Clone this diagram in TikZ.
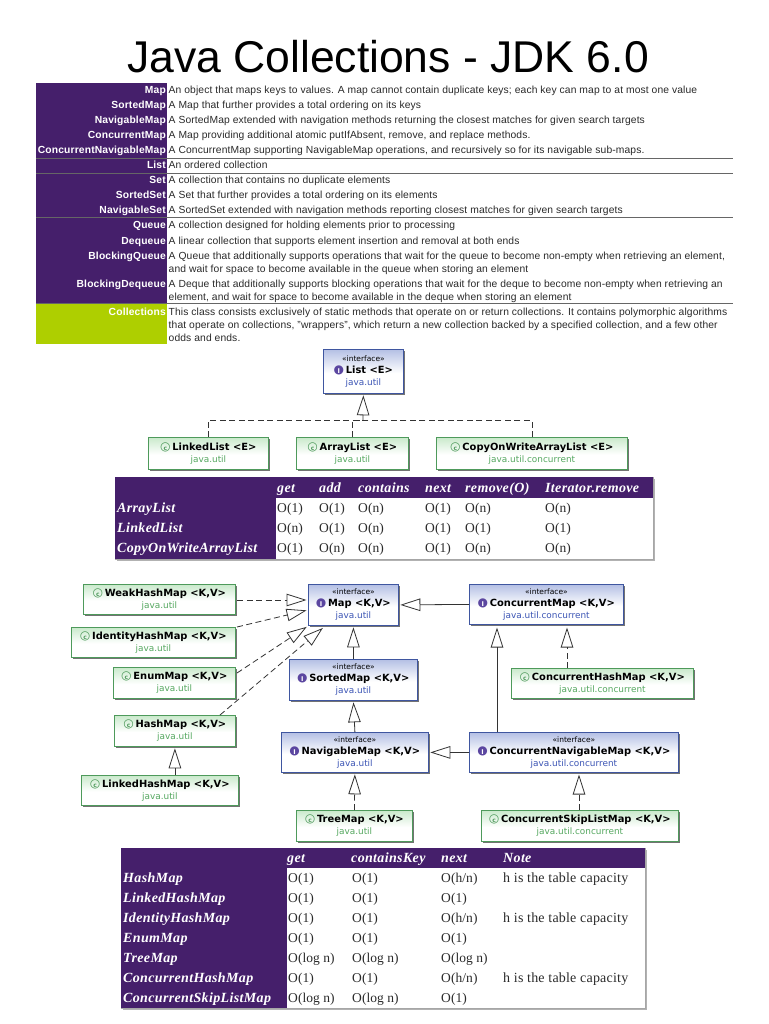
\documentclass[tikz,border=0pt]{standalone}
\usepackage{fontspec}
\setmainfont{Liberation Sans}
\newfontfamily\serf{Liberation Serif}
\newfontfamily\djv{DejaVu Sans}
\usetikzlibrary{arrows.meta,shadows}
\definecolor{pur}{HTML}{451F6B}
\definecolor{lime}{HTML}{AECF00}
\definecolor{ifcblue}{HTML}{6F85CC}
\definecolor{ifcedge}{HTML}{3F56A0}
\definecolor{clsgreen}{HTML}{98D69C}
\definecolor{clsedge}{HTML}{4E9A5B}
\definecolor{pkgblue}{HTML}{3C55B5}
\definecolor{pkggreen}{HTML}{55A860}
\definecolor{icpur}{HTML}{5B46A0}
\definecolor{txt}{HTML}{2A2A2A}
\newcommand{\slsh}{/}
\pgfdeclareverticalshading{ifcshade}{100bp}{color(0bp)=(white);color(48bp)=(white);color(100bp)=(ifcblue)}
\pgfdeclareverticalshading{clsshade}{100bp}{color(0bp)=(white);color(48bp)=(white);color(100bp)=(clsgreen)}
\newcommand{\icI}{\makebox[10pt]{\makebox[0pt]{\djv\fontsize{12}{12}\selectfont\color{icpur}●}\makebox[0pt]{\djv\fontsize{6.5}{6.5}\selectfont\bfseries\color{white}I}}\hspace{2pt}}
\newcommand{\icC}{\makebox[10pt]{\makebox[0pt]{\djv\fontsize{12}{12}\selectfont\bfseries\color{clsedge}○}\makebox[0pt]{\djv\fontsize{6}{6}\selectfont\bfseries\color{clsedge}c}}\hspace{2pt}}
\newcommand{\ifcnode}[7]{\node[ifcbox,minimum width=#4pt,minimum height=#5pt] (#1) at (#2,#3) {\fontsize{7.5}{10}\selectfont «interface»\\[0pt]\icI\fontsize{9.9}{12}\selectfont\bfseries\color{black}#6\\[0pt]\fontsize{8.9}{10}\selectfont\mdseries\color{pkgblue}#7};}
\newcommand{\clsnode}[7]{\node[clsbox,minimum width=#4pt,minimum height=#5pt] (#1) at (#2,#3) {\icC\fontsize{9.9}{12}\selectfont\bfseries\color{black}#6\\[0pt]\fontsize{8.9}{10}\selectfont\mdseries\color{pkggreen}#7};}
\tikzset{
  ifcbox/.style={anchor=north west,rectangle,draw=ifcedge,line width=.8pt,shading=ifcshade,inner sep=0pt,align=center,font=\djv,text=black,drop shadow={shadow xshift=1.5pt,shadow yshift=-1.5pt,fill=black!55,opacity=1}},
  clsbox/.style={anchor=north west,rectangle,draw=clsedge,line width=.8pt,shading=clsshade,inner sep=0pt,align=center,font=\djv,text=black,drop shadow={shadow xshift=1.5pt,shadow yshift=-1.5pt,fill=black!55,opacity=1}},
  conn/.style={draw=black!80,line width=.8pt},
  dashconn/.style={conn,dash pattern=on 6pt off 3.5pt},
  tip/.style={-{Triangle[open,length=20pt,width=12.5pt,line width=.8pt,sep=0pt]},shorten >=1.5pt},
  desc/.style={anchor=base west,inner sep=0pt,font=\fontsize{10.3}{12}\selectfont\addfontfeatures{LetterSpace=1.1},text=txt},
  key/.style={anchor=base east,inner sep=0pt,font=\fontsize{10.3}{12}\selectfont\bfseries\addfontfeatures{LetterSpace=1.5},text=white},
  hd/.style={anchor=base west,inner sep=0pt,font=\serf\fontsize{14}{15}\selectfont\bfseries\itshape\addfontfeatures{LetterSpace=2.5},text=white},
  cell/.style={anchor=base west,inner sep=0pt,font=\serf\fontsize{13.5}{15}\selectfont\addfontfeatures{LetterSpace=0.5},text=txt},
  note/.style={anchor=base west,inner sep=0pt,font=\serf\fontsize{14}{15}\selectfont\addfontfeatures{LetterSpace=1.5},text=txt},
}
\begin{document}
\begin{tikzpicture}[x=1pt,y=-1pt]
\useasboundingbox (0,0) rectangle (768,1024);
\fill[white] (0,0) rectangle (768,1024);
% title
\node[inner sep=0pt,anchor=base] (title) at (388,73) {\fontsize{44.5}{50}\selectfont Java Collections - JDK 6.0};
% top table
\fill[pur] (36,83) rectangle (167,304);
\fill[lime] (36,304) rectangle (167,344);
\foreach \a/\b in {158/1,173/2,217/3,303/4}{
  \draw[black!60,line width=.7pt] (36,\a) -- (733,\a);
}
\foreach \y/\k/\t in {
 94/Map/{An object that maps keys to values. A map cannot contain duplicate keys; each key can map to at most one value},
 109/SortedMap/{A Map that further provides a total ordering on its keys},
 124/NavigableMap/{A SortedMap extended with navigation methods returning the closest matches for given search targets},
 139/ConcurrentMap/{A Map providing additional atomic putIfAbsent, remove, and replace methods.},
 154/ConcurrentNavigableMap/{A ConcurrentMap supporting NavigableMap operations, and recursively so for its navigable sub-maps.},
 169/List/{An ordered collection},
 184/Set/{A collection that contains no duplicate elements},
 199/SortedSet/{A Set that further provides a total ordering on its elements},
 214/NavigableSet/{A SortedSet extended with navigation methods reporting closest matches for given search targets},
 229/Queue/{A collection designed for holding elements prior to processing},
 244/Dequeue/{A linear collection that supports element insertion and removal at both ends},
 259/BlockingQueue/{A Queue that additionally supports operations that wait for the queue to become non-empty when retrieving an element,},
 287/BlockingDequeue/{A Deque that additionally supports blocking operations that wait for the deque to become non-empty when retrieving an}}{
  \node[key] (k\y) at (166,\y) {\k};
  \node[desc] (d\y) at (168.5,\y) {\t};
}
\node[key,text=white] (k315) at (166,315) {Collections};
\foreach \y/\t in {
 272/{and wait for space to become available in the queue when storing an element},
 300/{element, and wait for space to become available in the deque when storing an element},
 315/{This class consists exclusively of static methods that operate on or return collections. It contains polymorphic algorithms},
 328/{that operate on collections, "wrappers", which return a new collection backed by a specified collection, and a few other},
 341/{odds and ends.}}{
  \node[desc] (d\y) at (168.5,\y) {\t};
}
% list diagram
\ifcnode{List}{323}{349}{80}{44}{List <E>}{java.util}
\clsnode{LinkedList}{148}{437}{120}{32}{LinkedList <E>}{java.util}
\clsnode{ArrayList}{296}{437}{112}{32}{ArrayList <E>}{java.util}
\clsnode{CopyOnWrite}{436}{437}{191}{32}{CopyOnWriteArrayList <E>}{java.util.concurrent}
\coordinate (jn) at (363,420);
\draw[dashconn] (LinkedList.north) |- (jn);
\draw[dashconn] (ArrayList.north) |- (jn);
\draw[dashconn] (CopyOnWrite.north) |- (jn);
\draw[conn,tip] (jn) -- (List.south);
% table 1
\fill[black!30] (117,479) rectangle (655,561);
\fill[white] (115,477) rectangle (653,559);
\draw[black!35,line width=.5pt] (115,477) rectangle (653,559);
\fill[pur] (115,477) rectangle (653,498);
\fill[pur] (115,498) rectangle (276,559);
\foreach \x/\t [count=\n] in {277/get,319/add,358/contains,425/next,465/remove(O),545/Iterator.remove}{
  \node[hd] (ah\n) at (\x,492) {\t};
}
\foreach \y/\t [count=\n] in {512/ArrayList,532/LinkedList,552/CopyOnWriteArrayList}{
  \node[hd] (ar\n) at (117,\y) {\t};
}
\foreach \x/\y/\t [count=\n] in {
 277/512/O(1),319/512/O(1),358/512/O(n),425/512/O(1),465/512/O(n),545/512/O(n),
 277/532/O(n),319/532/O(1),358/532/O(n),425/532/O(1),465/532/O(1),545/532/O(1),
 277/552/O(1),319/552/O(n),358/552/O(n),425/552/O(1),465/552/O(n),545/552/O(n)}{
  \node[cell] (ac\n) at (\x,\y) {\t};
}
% map diagram
\clsnode{Weak}{83}{584}{152}{30}{WeakHashMap <K,V>}{java.util}
\clsnode{Identity}{71}{627}{164}{30}{IdentityHashMap <K,V>}{java.util}
\clsnode{EnumM}{113}{667}{122}{31}{EnumMap <K,V>}{java.util}
\clsnode{HashM}{114}{715}{121}{31}{HashMap <K,V>}{java.util}
\clsnode{LinkedHash}{81}{775}{157}{30}{LinkedHashMap <K,V>}{java.util}
\ifcnode{MapN}{308}{584}{90}{41}{Map <K,V>}{java.util}
\ifcnode{Sorted}{289}{659}{128}{41}{SortedMap <K,V>}{java.util}
\ifcnode{Nav}{281}{732}{147}{40}{NavigableMap <K,V>}{java.util}
\clsnode{Tree}{296}{810}{116}{31}{TreeMap <K,V>}{java.util}
\ifcnode{CM}{469}{584}{154}{40}{ConcurrentMap <K,V>}{java.util.concurrent}
\clsnode{CHM}{511}{668}{182}{30}{ConcurrentHashMap <K,V>}{java.util.concurrent}
\ifcnode{CNM}{469}{732}{209}{40}{ConcurrentNavigableMap <K,V>}{java.util.concurrent}
\clsnode{CSL}{481}{810}{197}{31}{ConcurrentSkipListMap <K,V>}{java.util.concurrent}
\coordinate (wIn) at (308,600);
\coordinate (wOut) at (237,600);
\coordinate (iIn) at (308,610);
\coordinate (iOut) at (237,627);
\coordinate (eIn) at (308,626);
\coordinate (eOut) at (237,673);
\coordinate (hIn) at (324,627);
\coordinate (hOut) at (220,715);
\draw[dashconn,tip] (wOut) -- (wIn);
\draw[dashconn,tip] (iOut) -- (iIn);
\draw[dashconn,tip] (eOut) -- (eIn);
\draw[dashconn,tip] (hOut) -- (hIn);
\draw[conn,tip] (HashM.south |- LinkedHash.north) -- (HashM.south);
\draw[conn,tip] (Sorted.north) -- (MapN.south);
\draw[conn,tip] (Nav.north) -- (Sorted.south);
\draw[dashconn,tip] (Tree.north) -- (Nav.south);
\draw[conn,tip] (CM.west) -- (MapN.east);
\draw[conn,tip] (CNM.west) -- (Nav.east);
\coordinate (a1) at (497,732);
\coordinate (a2) at (497,626);
\draw[conn,tip] (a1) -- (a2);
\coordinate (b1) at (567,668);
\coordinate (b2) at (567,626);
\draw[dashconn,tip] (b1) -- (b2);
\coordinate (c1) at (579,810);
\coordinate (c2) at (579,773);
\draw[dashconn,tip] (c1) -- (c2);
% table 2
\fill[black!30] (123,850) rectangle (647,1010);
\fill[white] (121,848) rectangle (645,1008);
\draw[black!35,line width=.5pt] (121,848) rectangle (645,1008);
\fill[pur] (121,848) rectangle (645,868);
\fill[pur] (121,868) rectangle (287,1008);
\foreach \x/\t [count=\n] in {287/get,351/containsKey,441/next,503/Note}{
  \node[hd] (bh\n) at (\x,862) {\t};
}
\foreach \y/\t [count=\n] in {882/HashMap,902/LinkedHashMap,922/IdentityHashMap,942/EnumMap,962/TreeMap,982/ConcurrentHashMap,1002/ConcurrentSkipListMap}{
  \node[hd] (br\n) at (123,\y) {\t};
}
\foreach \x/\y/\t [count=\n] in {
 288/882/O(1),352/882/O(1),441/882/O(h\slsh n),
 288/902/O(1),352/902/O(1),441/902/O(1),
 288/922/O(1),352/922/O(1),441/922/O(h\slsh n),
 288/942/O(1),352/942/O(1),441/942/O(1),
 288/962/O(log n),352/962/O(log n),441/962/O(log n),
 288/982/O(1),352/982/O(1),441/982/O(h\slsh n),
 288/1002/O(log n),352/1002/O(log n),441/1002/O(1)}{
  \node[cell] (bc\n) at (\x,\y) {\t};
}
\foreach \y in {882,922,982}{
  \node[note] (bn\y) at (503,\y) {h is the table capacity};
}
\end{tikzpicture}
\end{document}
